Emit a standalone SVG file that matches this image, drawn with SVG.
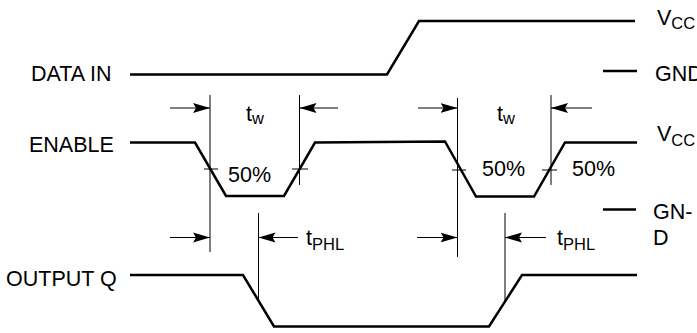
<svg xmlns="http://www.w3.org/2000/svg" width="697" height="333" viewBox="0 0 697 333">
<style>
.sig{fill:none;stroke:#000;stroke-width:2.5;stroke-linejoin:miter}
.dim{fill:none;stroke:#000;stroke-width:1}
.lbl{font-family:"Liberation Sans",Arial,sans-serif;font-size:21.5px;fill:#000}
.sub{font-size:16.5px}
</style>
<defs>
<marker id="arr" markerUnits="userSpaceOnUse" markerWidth="18" markerHeight="12" viewBox="0 -6 18 12" refX="17" refY="0" orient="auto">
<path d="M0,-5 L17,0 L0,5 L3,0 z" fill="#000"/>
</marker>
</defs>
<rect width="697" height="333" fill="#fff"/>

<g id="data-in">
<text class="lbl" x="31" y="81">DATA IN</text>
<polyline class="sig" points="130,74.5 387,74.5 419,21 635,21"/>
</g>

<g id="enable">
<text class="lbl" x="29" y="152">ENABLE</text>
<polyline class="sig" points="130,142.5 195,142.5 226,196 284,196 315,142.5 445,141.5 476,196.5 534,196.5 565,142.5 637,142.5"/>
</g>

<g id="output-q">
<text class="lbl" x="6" y="286">OUTPUT Q</text>
<polyline class="sig" points="130,275 243,275 274,326.5 489,326.5 522,275 637,275"/>
</g>

<g id="level-labels">
<text class="lbl" x="657" y="25">V<tspan class="sub" dy="4">CC</tspan></text>
<line class="sig" x1="603" y1="71" x2="637" y2="71"/>
<text class="lbl" x="655" y="81">GND</text>
<text class="lbl" x="657" y="141">V<tspan class="sub" dy="5">CC</tspan></text>
<line class="sig" x1="603" y1="209.5" x2="636" y2="209.5"/>
<text class="lbl" x="653" y="219">GN-</text>
<text class="lbl" x="653" y="245">D</text>
</g>

<g id="connectors">
<line class="dim" x1="210" y1="95" x2="210" y2="252"/>
<line class="dim" x1="299.5" y1="95" x2="299.5" y2="185"/>
<line class="dim" x1="457.5" y1="98" x2="457.5" y2="257"/>
<line class="dim" x1="551" y1="95" x2="551" y2="185"/>
<line class="dim" x1="258.5" y1="213" x2="258.5" y2="301"/>
<line class="dim" x1="505" y1="213" x2="505" y2="302"/>
<line class="dim" x1="204" y1="169" x2="218" y2="169"/>
<line class="dim" x1="292" y1="169" x2="308" y2="169"/>
<line class="dim" x1="452" y1="170" x2="466" y2="170"/>
<line class="dim" x1="542" y1="170" x2="557" y2="170"/>
<line class="dim" x1="170" y1="108" x2="210" y2="108" marker-end="url(#arr)"/>
<line class="dim" x1="338" y1="108" x2="299.5" y2="108" marker-end="url(#arr)"/>
<line class="dim" x1="418" y1="108" x2="457.5" y2="108" marker-end="url(#arr)"/>
<line class="dim" x1="592" y1="108" x2="551" y2="108" marker-end="url(#arr)"/>
<line class="dim" x1="170" y1="237.5" x2="210" y2="237.5" marker-end="url(#arr)"/>
<line class="dim" x1="298" y1="237.5" x2="258.5" y2="237.5" marker-end="url(#arr)"/>
<line class="dim" x1="417" y1="237.5" x2="457.5" y2="237.5" marker-end="url(#arr)"/>
<line class="dim" x1="546" y1="237.5" x2="505" y2="237.5" marker-end="url(#arr)"/>
</g>

<g id="timing-labels">
<text class="lbl" x="246" y="121">t<tspan class="sub" dy="3">w</tspan></text>
<text class="lbl" x="497" y="121">t<tspan class="sub" dy="3">w</tspan></text>
<text class="lbl" x="228" y="182">50%</text>
<text class="lbl" x="482" y="176">50%</text>
<text class="lbl" x="572" y="176">50%</text>
<text class="lbl" x="306" y="245">t<tspan class="sub" dy="5">PHL</tspan></text>
<text class="lbl" x="557" y="245">t<tspan class="sub" dy="5">PHL</tspan></text>
</g>
</svg>
